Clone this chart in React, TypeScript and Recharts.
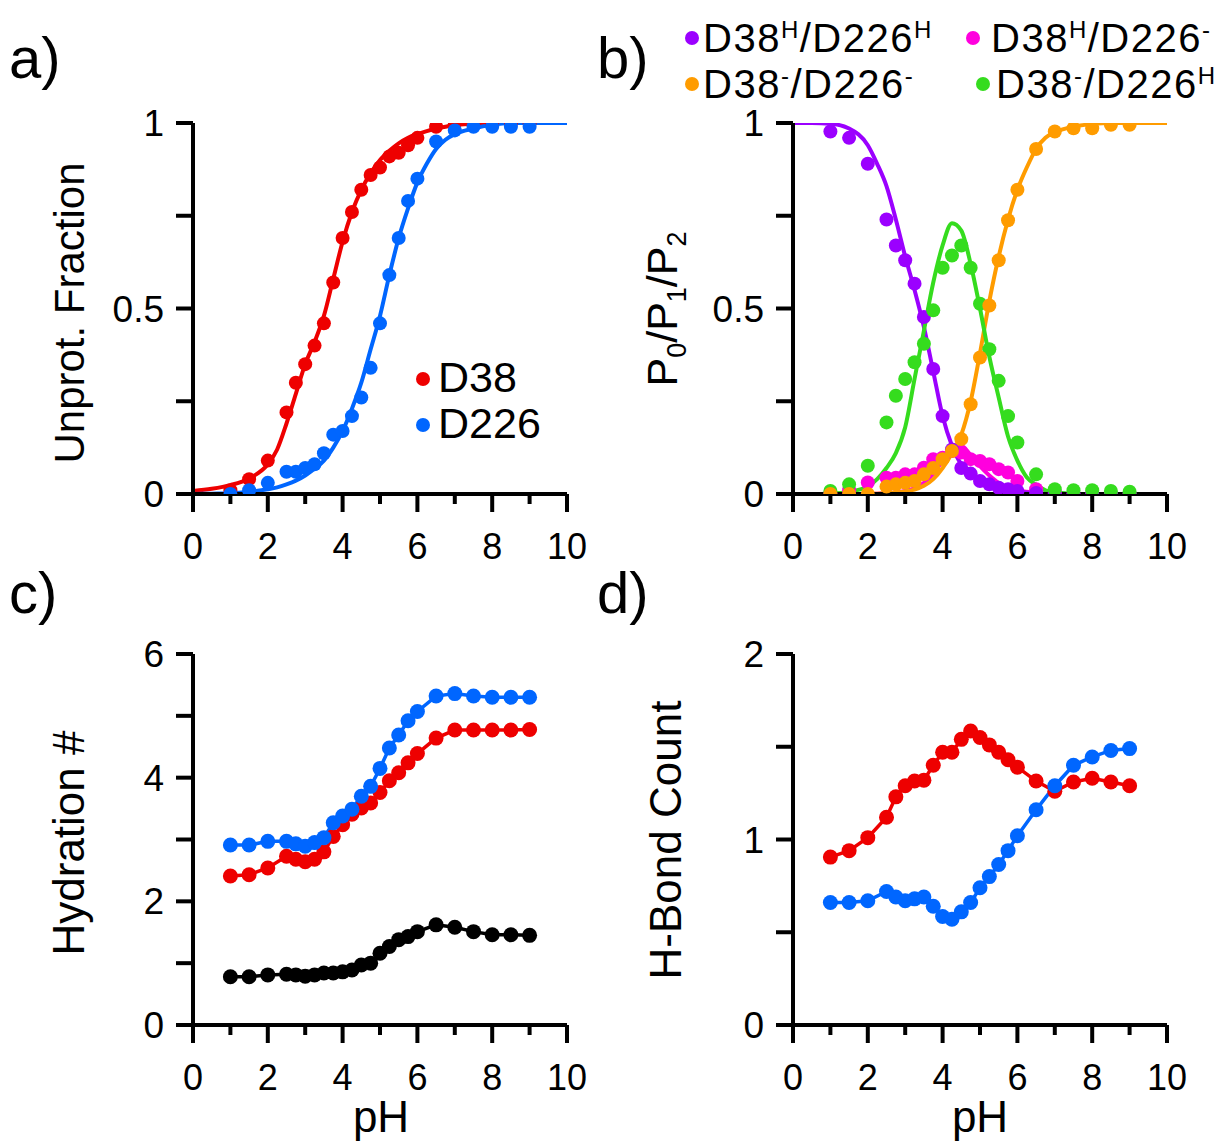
import React from "react";
import { ComposedChart, Line, XAxis, YAxis } from "recharts";

// simulated pH values (shared by all panels)
const PH = [1, 1.5, 2, 2.5, 2.75, 3, 3.25, 3.5, 3.75, 4, 4.25, 4.5, 4.75, 5, 5.25, 5.5, 5.75, 6, 6.5, 7, 7.5, 8, 8.5, 9];

// x grid of the fitted curves
const FIT_PH = [0, 0.5, 1, 1.5, 2, 2.25, 2.5, 2.75, 3, 3.25, 3.5, 3.75, 4, 4.25, 4.5, 4.75, 5, 5.25, 5.5, 5.75, 6, 6.25, 6.5, 6.75, 7, 7.5, 8, 8.5, 9, 9.5, 10];

// a) unprotonated fraction
const unprotD38 = [0.01, 0.04, 0.09, 0.22, 0.3, 0.35, 0.4, 0.46, 0.57, 0.69, 0.76, 0.82, 0.86, 0.88, 0.91, 0.92, 0.94, 0.96, 0.99, 1, 1, 1, 1, 1];
const unprotD226 = [0, 0.01, 0.03, 0.06, 0.06, 0.07, 0.08, 0.11, 0.16, 0.17, 0.21, 0.26, 0.34, 0.46, 0.59, 0.69, 0.79, 0.85, 0.95, 0.98, 0.99, 0.99, 0.99, 0.99];
const fitD38 = [0.008, 0.014, 0.024, 0.042, 0.08, 0.12, 0.19, 0.27, 0.35, 0.41, 0.48, 0.58, 0.68, 0.76, 0.82, 0.865, 0.9, 0.925, 0.945, 0.96, 0.97, 0.978, 0.985, 0.99, 0.995, 0.998, 1, 1, 1, 1, 1];
const fitD226 = [0, 0.001, 0.002, 0.006, 0.013, 0.018, 0.026, 0.036, 0.05, 0.068, 0.09, 0.125, 0.17, 0.23, 0.3, 0.39, 0.48, 0.59, 0.69, 0.77, 0.84, 0.89, 0.93, 0.955, 0.97, 0.985, 0.995, 1, 1, 1, 1];

// b) protonation state populations
const popHH = [0.977, 0.96, 0.89, 0.74, 0.67, 0.63, 0.567, 0.477, 0.337, 0.21, 0.12, 0.07, 0.055, 0.035, 0.026, 0.017, 0.013, 0.008, 0.003, 0.001, 0, 0, 0, 0];
const popHD = [0.003, 0.01, 0.031, 0.044, 0.044, 0.053, 0.053, 0.071, 0.094, 0.098, 0.116, 0.112, 0.094, 0.089, 0.08, 0.067, 0.058, 0.035, 0.013, 0.004, 0, 0, 0, 0];
const popDD = [0, 0, 0, 0.02, 0.026, 0.03, 0.035, 0.053, 0.07, 0.094, 0.116, 0.148, 0.242, 0.368, 0.508, 0.63, 0.738, 0.82, 0.93, 0.977, 0.986, 0.986, 0.995, 0.995];
const popDH = [0.008, 0.026, 0.076, 0.193, 0.265, 0.31, 0.355, 0.405, 0.495, 0.61, 0.643, 0.67, 0.61, 0.513, 0.39, 0.305, 0.21, 0.139, 0.053, 0.013, 0.01, 0.01, 0.008, 0.006];
const fitHH = [1, 1, 0.998, 0.985, 0.94, 0.89, 0.83, 0.74, 0.64, 0.55, 0.45, 0.33, 0.21, 0.13, 0.08, 0.055, 0.037, 0.025, 0.016, 0.01, 0.006, 0.004, 0.002, 0.001, 0, 0, 0, 0, 0, 0, 0];
const fitHD = [0, 0, 0, 0, 0, 0.001, 0.002, 0.004, 0.008, 0.015, 0.03, 0.055, 0.09, 0.125, 0.13, 0.105, 0.075, 0.05, 0.03, 0.018, 0.01, 0.006, 0.003, 0.001, 0, 0, 0, 0, 0, 0, 0];
const fitDD = [0, 0, 0, 0, 0, 0.001, 0.002, 0.004, 0.007, 0.012, 0.022, 0.04, 0.07, 0.11, 0.16, 0.25, 0.38, 0.52, 0.64, 0.74, 0.82, 0.88, 0.93, 0.96, 0.975, 0.99, 0.997, 1, 1, 1, 1];
const fitDH = [0, 0, 0.001, 0.006, 0.02, 0.04, 0.07, 0.11, 0.18, 0.31, 0.44, 0.57, 0.67, 0.73, 0.71, 0.62, 0.5, 0.37, 0.26, 0.155, 0.09, 0.045, 0.025, 0.01, 0.005, 0.001, 0, 0, 0, 0, 0];

// c) hydration number
const hydD226 = [2.91, 2.91, 2.97, 2.97, 2.93, 2.89, 2.95, 3.03, 3.27, 3.38, 3.49, 3.7, 3.86, 4.15, 4.48, 4.69, 4.92, 5.07, 5.32, 5.36, 5.32, 5.3, 5.3, 5.3];
const hydD38 = [2.41, 2.43, 2.54, 2.73, 2.68, 2.64, 2.68, 2.8, 3.05, 3.24, 3.41, 3.51, 3.59, 3.76, 3.95, 4.08, 4.24, 4.39, 4.64, 4.77, 4.77, 4.77, 4.77, 4.78];
const hydOther = [0.78, 0.78, 0.81, 0.82, 0.81, 0.79, 0.81, 0.84, 0.84, 0.86, 0.89, 0.97, 1.0, 1.16, 1.27, 1.38, 1.43, 1.51, 1.62, 1.58, 1.51, 1.46, 1.46, 1.45];

// d) H-bond count
const hbD38 = [0.905, 0.94, 1.01, 1.12, 1.23, 1.29, 1.315, 1.32, 1.4, 1.47, 1.47, 1.54, 1.585, 1.55, 1.51, 1.47, 1.43, 1.39, 1.315, 1.26, 1.31, 1.33, 1.31, 1.29];
const hbD226 = [0.66, 0.66, 0.67, 0.72, 0.69, 0.67, 0.68, 0.69, 0.64, 0.585, 0.57, 0.61, 0.66, 0.74, 0.8, 0.865, 0.94, 1.02, 1.16, 1.29, 1.4, 1.445, 1.48, 1.49];

const X_TICKS = [0, 1, 2, 3, 4, 5, 6, 7, 8, 9, 10];

const FONT = "'Liberation Sans', Arial, Helvetica, sans-serif";
const RED = "#ee0000";
const BLUE = "#0066ff";
const PURPLE = "#9b00ff";
const PINK = "#ff00de";
const ORANGE = "#ff9c00";
const GREEN = "#35dc1e";

const pts = (xs: number[], ys: number[]) => xs.map((x, i) => ({ x, y: ys[i] }));

type Series = { xs: number[]; ys: number[]; color: string; kind: "fit" | "pts" | "both" };

const XTick = (props: any) => {
  const { x, y, payload } = props;
  const v = payload.value;
  const major = v % 2 === 0;
  return (
    <g>
      <line x1={x} x2={x} y1={y} y2={y + (major ? 18 : 10)} stroke="#000" strokeWidth={4} />
      {major && (
        <text x={x} y={y + 65} textAnchor="middle" fontSize={36} fontFamily={FONT} fill="#000">
          {v}
        </text>
      )}
    </g>
  );
};

const makeYTick = (labels: number[]) => (props: any) => {
  const { x, y, payload } = props;
  const v = payload.value;
  return (
    <g key={`yt-${v}`}>
      <line x1={x} x2={x - 17} y1={y} y2={y} stroke="#000" strokeWidth={4} />
      {labels.includes(v) && (
        <text x={x - 29} y={y + 13} textAnchor="end" fontSize={37} fontFamily={FONT} fill="#000">
          {v}
        </text>
      )}
    </g>
  );
};

function Panel({ left, top, yMax, yTicks, yLabels, series }: { left: number; top: number; yMax: number; yTicks: number[]; yLabels: number[]; series: Series[] }) {
  return (
    <div style={{ position: "absolute", left, top }}>
      <ComposedChart width={600} height={580} margin={{ top: 123, right: 33, bottom: 26, left: 93 }}>
        <XAxis
          type="number"
          dataKey="x"
          domain={[0, 10]}
          ticks={X_TICKS}
          interval={0}
          tick={<XTick />}
          tickLine={false}
          tickSize={0}
          tickMargin={0}
          height={60}
          allowDataOverflow
          axisLine={{ stroke: "#000", strokeWidth: 4 }}
        />
        <YAxis
          type="number"
          dataKey="y"
          domain={[0, yMax]}
          ticks={yTicks}
          interval={0}
          tick={makeYTick(yLabels)}
          tickLine={false}
          tickSize={0}
          tickMargin={0}
          width={100}
          allowDataOverflow
          axisLine={{ stroke: "#000", strokeWidth: 4 }}
        />
        {series.map((s, i) => (
          <Line
            key={i}
            data={pts(s.xs, s.ys)}
            dataKey="y"
            type={s.kind === "fit" ? "monotone" : "linear"}
            stroke={s.kind === "pts" ? "none" : s.color}
            strokeWidth={s.kind === "fit" ? 4 : 3.5}
            isAnimationActive={false}
            activeDot={false}
            dot={
              s.kind === "fit"
                ? false
                : (p: any) => <circle key={`d-${i}-${p.index}`} cx={p.cx} cy={p.cy} r={s.kind === "pts" ? 7 : 7.5} fill={s.color} />
            }
          />
        ))}
      </ComposedChart>
    </div>
  );
}

const txt = { fontFamily: FONT, fill: "#000" };
const leg = { ...txt, fontSize: 40, letterSpacing: 1.5 };

export default function App() {
  return (
    <div style={{ position: "absolute", left: 0, top: 0, width: 1231, height: 1142, background: "#fff", overflow: "hidden" }}>
      <Panel
        left={0}
        top={0}
        yMax={1}
        yTicks={[0, 0.25, 0.5, 0.75, 1]}
        yLabels={[0, 0.5, 1]}
        series={[
          { xs: FIT_PH, ys: fitD38, color: RED, kind: "fit" },
          { xs: FIT_PH, ys: fitD226, color: BLUE, kind: "fit" },
          { xs: PH, ys: unprotD38, color: RED, kind: "pts" },
          { xs: PH, ys: unprotD226, color: BLUE, kind: "pts" },
        ]}
      />
      <Panel
        left={600}
        top={0}
        yMax={1}
        yTicks={[0, 0.25, 0.5, 0.75, 1]}
        yLabels={[0, 0.5, 1]}
        series={[
          { xs: FIT_PH, ys: fitHD, color: PINK, kind: "fit" },
          { xs: FIT_PH, ys: fitHH, color: PURPLE, kind: "fit" },
          { xs: FIT_PH, ys: fitDD, color: ORANGE, kind: "fit" },
          { xs: FIT_PH, ys: fitDH, color: GREEN, kind: "fit" },
          { xs: PH, ys: popHD, color: PINK, kind: "pts" },
          { xs: PH, ys: popHH, color: PURPLE, kind: "pts" },
          { xs: PH, ys: popDH, color: GREEN, kind: "pts" },
          { xs: PH, ys: popDD, color: ORANGE, kind: "pts" },
        ]}
      />
      <Panel
        left={0}
        top={531}
        yMax={6}
        yTicks={[0, 1, 2, 3, 4, 5, 6]}
        yLabels={[0, 2, 4, 6]}
        series={[
          { xs: PH, ys: hydOther, color: "#000", kind: "both" },
          { xs: PH, ys: hydD38, color: RED, kind: "both" },
          { xs: PH, ys: hydD226, color: BLUE, kind: "both" },
        ]}
      />
      <Panel
        left={600}
        top={531}
        yMax={2}
        yTicks={[0, 0.5, 1, 1.5, 2]}
        yLabels={[0, 1, 2]}
        series={[
          { xs: PH, ys: hbD38, color: RED, kind: "both" },
          { xs: PH, ys: hbD226, color: BLUE, kind: "both" },
        ]}
      />

      <svg width={1231} height={1142} style={{ position: "absolute", left: 0, top: 0, pointerEvents: "none" }}>
        {/* panel letters */}
        <text x={9} y={78} fontSize={58} {...txt}>a)</text>
        <text x={597} y={78} fontSize={58} {...txt}>b)</text>
        <text x={9} y={613} fontSize={58} {...txt}>c)</text>
        <text x={597} y={613} fontSize={58} {...txt}>d)</text>

        {/* axis titles */}
        <text transform="translate(84,313) rotate(-90)" textAnchor="middle" fontSize={42} {...txt}>Unprot. Fraction</text>
        <text transform="translate(677,309) rotate(-90)" textAnchor="middle" fontSize={43} {...txt}>
          P<tspan dy={9} fontSize={27}>0</tspan>
          <tspan dy={-9}>/P</tspan>
          <tspan dy={9} fontSize={27}>1</tspan>
          <tspan dy={-9}>/P</tspan>
          <tspan dy={9} fontSize={27}>2</tspan>
        </text>
        <text transform="translate(84,843) rotate(-90)" textAnchor="middle" fontSize={44} {...txt}>Hydration #</text>
        <text transform="translate(681,840) rotate(-90)" textAnchor="middle" fontSize={44} {...txt}>H-Bond Count</text>
        <text x={381} y={1132} textAnchor="middle" fontSize={44} {...txt}>pH</text>
        <text x={980} y={1132} textAnchor="middle" fontSize={44} {...txt}>pH</text>

        {/* legend a */}
        <circle cx={423} cy={379} r={7} fill={RED} />
        <text x={438} y={392} fontSize={43} {...txt}>D38</text>
        <circle cx={423} cy={425} r={7} fill={BLUE} />
        <text x={438} y={438} fontSize={43} {...txt}>D226</text>

        {/* legend b */}
        <circle cx={692} cy={38} r={7} fill={PURPLE} />
        <text x={703} y={52} {...leg}>
          D38<tspan dy={-14} fontSize={24}>H</tspan>
          <tspan dy={14}>/D226</tspan>
          <tspan dy={-14} fontSize={24}>H</tspan>
        </text>
        <circle cx={973} cy={38} r={7} fill={PINK} />
        <text x={991} y={52} {...leg}>
          D38<tspan dy={-14} fontSize={24}>H</tspan>
          <tspan dy={14}>/D226</tspan>
          <tspan dy={-14} fontSize={24}>-</tspan>
        </text>
        <circle cx={692} cy={84} r={7} fill={ORANGE} />
        <text x={703} y={98} {...leg}>
          D38<tspan dy={-14} fontSize={24}>-</tspan>
          <tspan dy={14}>/D226</tspan>
          <tspan dy={-14} fontSize={24}>-</tspan>
        </text>
        <circle cx={983} cy={84} r={7} fill={GREEN} />
        <text x={996} y={98} {...leg}>
          D38<tspan dy={-14} fontSize={24}>-</tspan>
          <tspan dy={14}>/D226</tspan>
          <tspan dy={-14} fontSize={24}>H</tspan>
        </text>
      </svg>
    </div>
  );
}
